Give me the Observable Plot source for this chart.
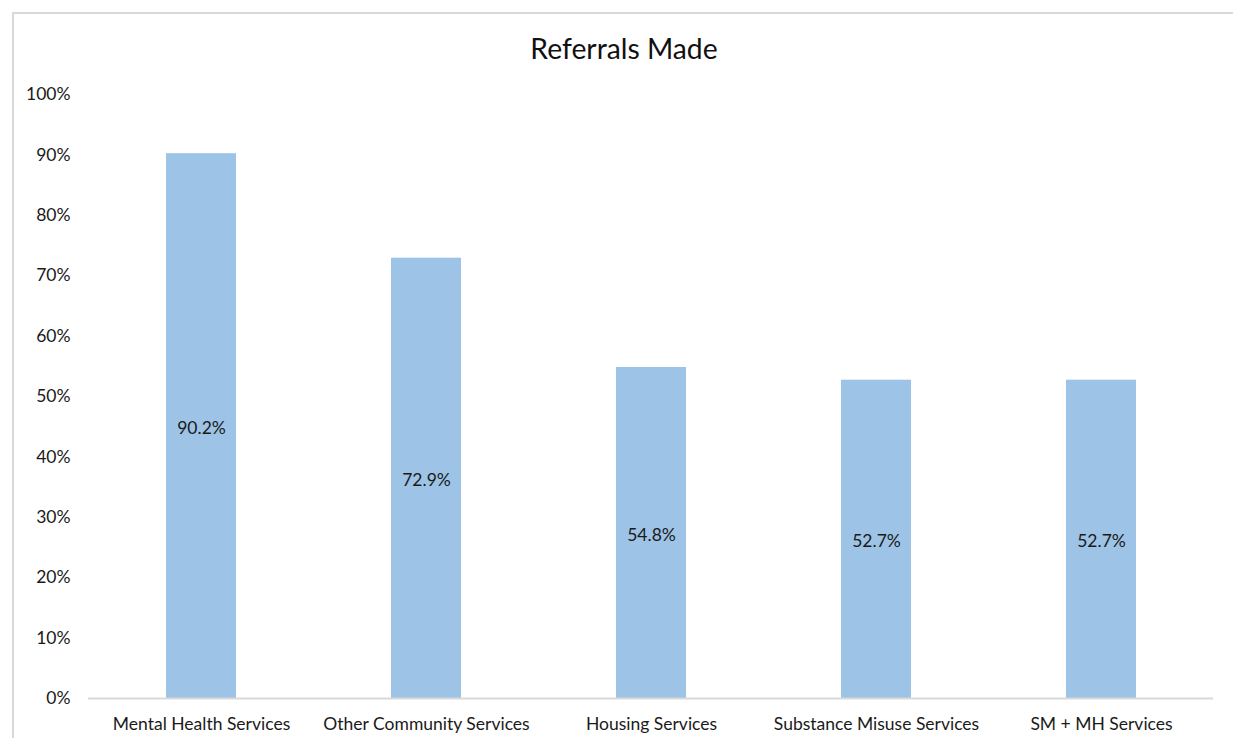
<!DOCTYPE html>
<html>
<head>
<meta charset="utf-8">
<script src="https://cdn.jsdelivr.net/npm/d3@7"></script>
<script src="https://cdn.jsdelivr.net/npm/@observablehq/plot@0.6"></script>
<style>
  html, body { margin: 0; padding: 0; background: #fff; overflow: hidden; width: 1233px; height: 738px; }
  #frame { position: absolute; left: 12px; top: 12px; width: 1240px; height: 760px; border: 2px solid #d9d9d9; box-sizing: border-box; }
  #title { position: absolute; left: 0; top: 34px; width: 1248px; text-align: center; font-family: Lato, sans-serif; font-size: 28.3px; line-height: 28px; color: #111; }
  #chart { position: absolute; left: 0; top: 0; }
</style>
</head>
<body>
<div id="frame"></div>
<div id="chart"></div>
<div id="title">Referrals Made</div>
<script>
const categories = ["Mental Health Services", "Other Community Services", "Housing Services", "Substance Misuse Services", "SM + MH Services"];
const values = [90.2, 72.9, 54.8, 52.7, 52.7];
const yTicks = [0, 10, 20, 30, 40, 50, 60, 70, 80, 90, 100];

const data = categories.map((c, i) => ({category: c, value: values[i]}));

const chart = Plot.plot({
  width: 1233,
  height: 738,
  marginLeft: 88,
  marginRight: 20,
  marginTop: 94,
  marginBottom: 40,
  style: {fontFamily: "Lato, sans-serif", fontSize: "17.5px", color: "#1a1a1a", background: "transparent"},
  x: {domain: categories, paddingInner: 0.689, paddingOuter: 0.3445, label: null, tickSize: 0, tickPadding: 19},
  y: {domain: [0, 100], ticks: yTicks, tickFormat: d => d + "%", label: null, tickSize: 0, tickPadding: 18},
  marks: [
    Plot.barY(data, {x: "category", y: "value", fill: "#9dc3e6"}),
    Plot.ruleY([0], {stroke: "#d9d9d9", strokeWidth: 2}),
    Plot.text(data, {x: "category", y: d => d.value / 2, dy: 2, text: d => d.value.toFixed(1) + "%", fill: "#1a1a1a"})
  ]
});
document.getElementById("chart").appendChild(chart);
</script>
</body>
</html>
